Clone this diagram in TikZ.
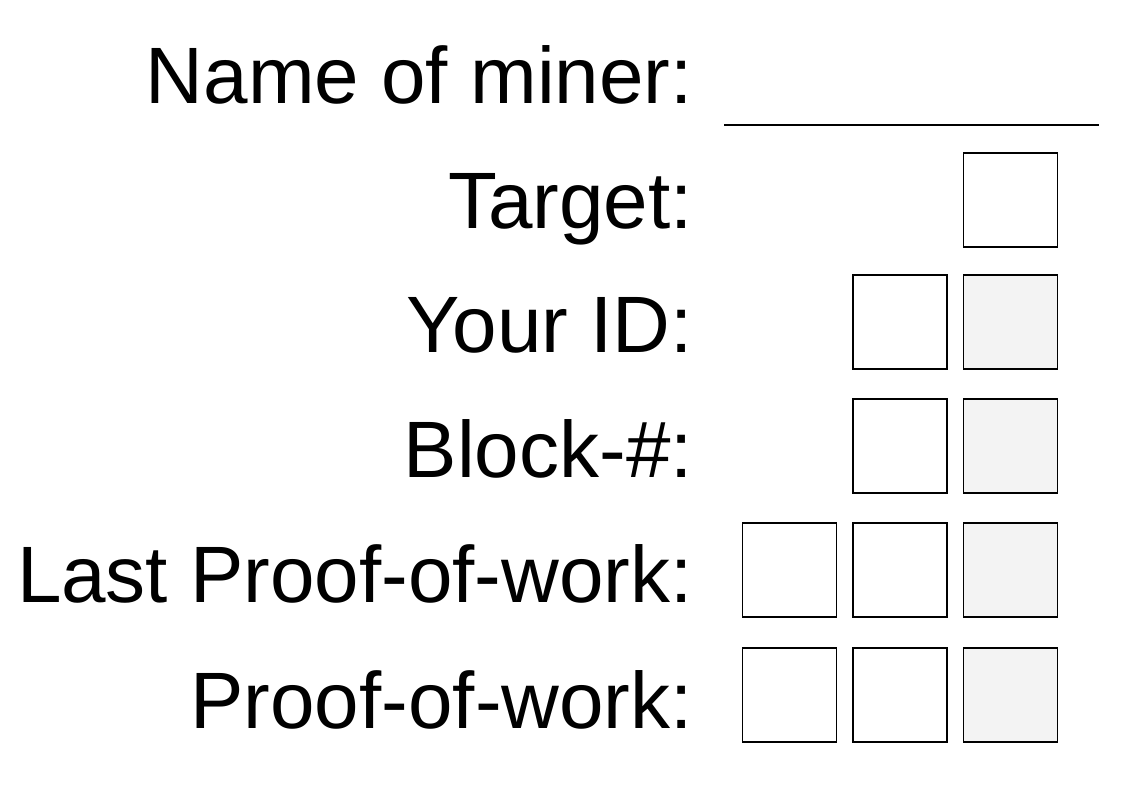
\documentclass[tikz,border=0pt]{standalone}
\usepackage{fontspec}
\setmainfont{Liberation Sans}
\definecolor{cellgray}{HTML}{F3F3F3}
\tikzset{
  lbl/.style={anchor=base east, inner sep=0pt, font=\fontsize{80}{90}\selectfont},
  cell/.style={draw=black, line width=1.4pt, minimum width=94pt, minimum height=94pt, inner sep=0pt, fill=white},
  gcell/.style={cell, fill=cellgray}
}
\begin{document}
\begin{tikzpicture}[x=1pt,y=-1pt]
\useasboundingbox (0,0) rectangle (1121,793);
% labels
\node[lbl] (l1) at (693,103) {Name of miner:};
\node[lbl] (l2) at (693,228) {Target:};
\node[lbl] (l3) at (693,352) {Your ID:};
\node[lbl] (l4) at (693,477) {Block-\#:};
\node[lbl] (l5) at (693,602) {Last Proof-of-work:};
\node[lbl] (l6) at (693,728) {Proof-of-work:};
% name line
\coordinate (ls) at (724,125);
\coordinate (le) at (1099,125);
\draw[line width=1.4pt] (ls) -- (le);
% cells
\node[cell]  (t3) at (1010.5,200) {};
\node[cell]  (i2) at (900,322) {};
\node[gcell] (i3) at (1010.5,322) {};
\node[cell]  (b2) at (900,446) {};
\node[gcell] (b3) at (1010.5,446) {};
\node[cell]  (lp1) at (789.5,570) {};
\node[cell]  (lp2) at (900,570) {};
\node[gcell] (lp3) at (1010.5,570) {};
\node[cell]  (p1) at (789.5,695) {};
\node[cell]  (p2) at (900,695) {};
\node[gcell] (p3) at (1010.5,695) {};
\end{tikzpicture}
\end{document}
